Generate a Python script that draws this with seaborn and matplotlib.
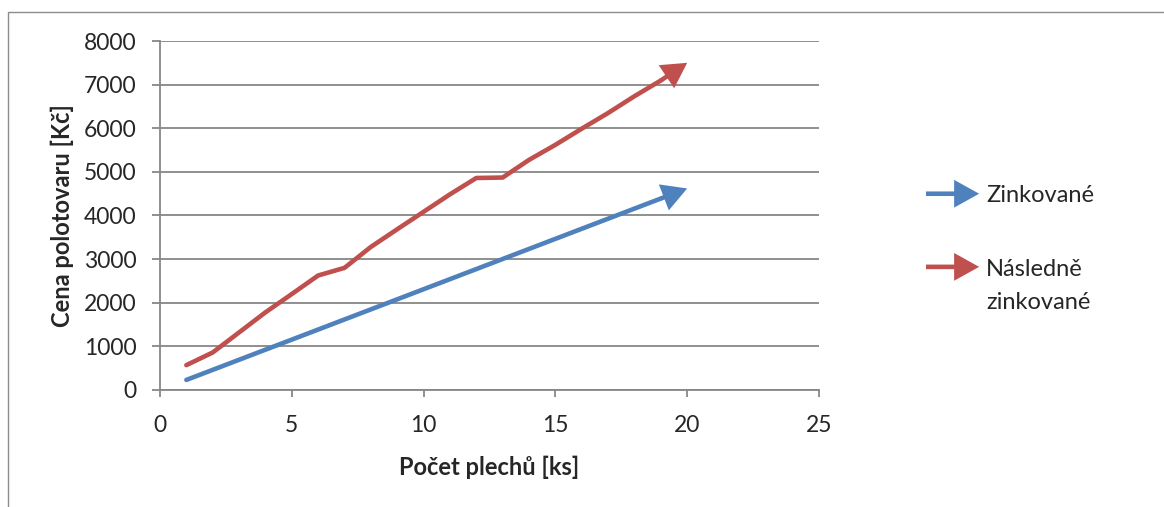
import matplotlib
matplotlib.use("Agg")
import matplotlib.pyplot as plt
import seaborn as sns
from matplotlib.patches import FancyArrowPatch, Patch, Rectangle
from matplotlib.legend_handler import HandlerPatch

# Data
sheets = [1, 2, 3, 4, 5, 6, 7, 8, 9, 10, 11, 12, 13, 14, 15, 16, 17, 18, 19, 20]
zinc = [231, 462, 693, 924, 1155, 1386, 1617, 1848, 2079, 2310,
        2541, 2772, 3003, 3234, 3465, 3696, 3927, 4158, 4389, 4620]
post_zinc = [570, 860, 1320, 1780, 2200, 2625, 2800, 3280, 3685, 4085,
             4485, 4860, 4870, 5275, 5620, 5990, 6350, 6735, 7095, 7500]
labels = ["Zinkované", "Následně\nzinkované"]

BLUE = "#4F81BD"
RED = "#C0504D"
GRID = "#878787"
LW = 3.3
ARROW = "simple,head_length=0.9,head_width=1.0,tail_width=0.165"

sns.set_style("white")
plt.rcParams["font.family"] = ["Lato", "DejaVu Sans"]

fig = plt.figure(figsize=(11.64, 5.07), dpi=100)
ax = fig.add_axes([160 / 1164, 1 - 390 / 507, 659 / 1164, 349 / 507])

for ys, col in [(zinc, BLUE), (post_zinc, RED)]:
    sns.lineplot(x=sheets[:-1], y=ys[:-1], color=col, lw=LW, ax=ax,
                 solid_capstyle="round", solid_joinstyle="round")
    ax.annotate("", xy=(sheets[-1], ys[-1]), xytext=(sheets[-2], ys[-2]),
                arrowprops=dict(arrowstyle=ARROW, mutation_scale=20, fc=col,
                                ec="none", lw=0, shrinkA=0, shrinkB=0))

ax.set_xlim(0, 25)
ax.set_ylim(0, 8000)
ax.set_xticks([0, 5, 10, 15, 20, 25])
ax.set_yticks(range(0, 8001, 1000))
ax.yaxis.grid(True, color=GRID, lw=1.3)
ax.set_axisbelow(True)
for s in ["top", "right"]:
    ax.spines[s].set_visible(False)
for s in ["left", "bottom"]:
    ax.spines[s].set_color(GRID)
    ax.spines[s].set_linewidth(1.3)
ax.tick_params(axis="x", direction="out", length=5, width=1.3, color=GRID,
               labelsize=16.5, pad=13, bottom=True)
ax.tick_params(axis="y", direction="out", length=6, width=1.3, color=GRID,
               labelsize=16.5, pad=11, left=True)
ax.set_xlabel("Počet plechů [ks]", fontsize=17, fontweight="bold", labelpad=14)
ax.set_ylabel("Cena polotovaru [Kč]", fontsize=17, fontweight="bold", labelpad=7)


class ArrowHandler(HandlerPatch):
    def __init__(self, dy=0.0):
        super().__init__()
        self.dy = dy

    def create_artists(self, legend, orig_handle, xdescent, ydescent,
                       width, height, fontsize, trans):
        y = height / 2 - ydescent + self.dy
        p = FancyArrowPatch((-xdescent, y), (-xdescent + width, y),
                            arrowstyle=ARROW, mutation_scale=20,
                            fc=orig_handle.get_facecolor(), ec="none", lw=0,
                            shrinkA=0, shrinkB=0)
        p.set_transform(trans)
        return [p]


h1 = Patch(color=BLUE, label=labels[0])
h2 = Patch(color=RED, label=labels[1])
leg = fig.legend(handles=[h1, h2], loc="upper left",
                 bbox_to_anchor=(926 / 1164, 1 - 185 / 507),
                 frameon=False, fontsize=17, handlelength=2.25,
                 handletextpad=0.3, labelspacing=2.25, borderpad=0,
                 borderaxespad=0,
                 handler_map={h1: ArrowHandler(), h2: ArrowHandler(14)})
for t in leg.get_texts():
    t.set_linespacing(1.7)

# outer chart frame (cut off at right and bottom)
fig.patches.append(Rectangle((8 / 1164, -0.1), 1.2, 1 - 12 / 507 + 0.1,
                             transform=fig.transFigure, fill=False,
                             edgecolor="#8c8c8c", lw=1))

fig.savefig("out.png", dpi=100)
